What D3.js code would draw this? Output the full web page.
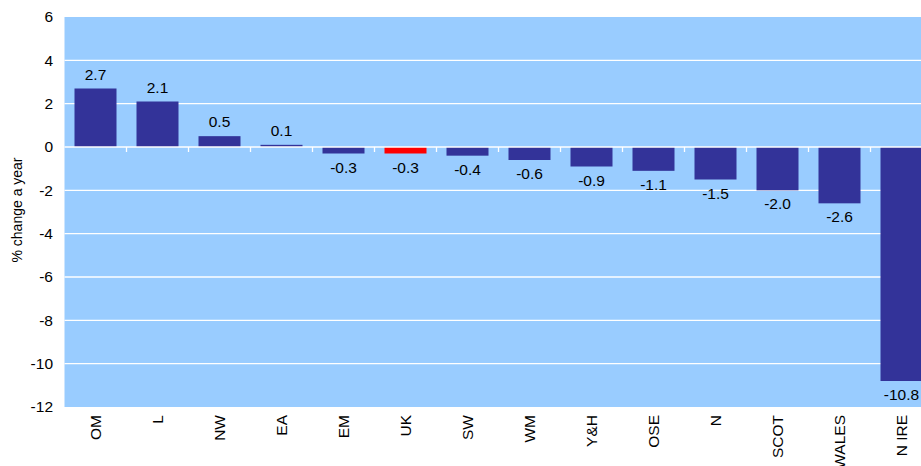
<!DOCTYPE html>
<html>
<head>
<meta charset="utf-8">
<script src="https://cdn.jsdelivr.net/npm/d3@7/dist/d3.min.js"></script>
<style>
  html, body { margin: 0; padding: 0; background: #ffffff; }
  svg { display: block; font-family: "Liberation Sans", Arial, sans-serif; }
</style>
</head>
<body>
<svg id="chart" width="921" height="466"></svg>
<script>
// Regional change, % a year
const regions = ["OM", "L", "NW", "EA", "EM", "UK", "SW", "WM", "Y&H", "OSE", "N", "SCOT", "WALES", "N IRE"];
const changes = [2.7, 2.1, 0.5, 0.1, -0.3, -0.3, -0.4, -0.6, -0.9, -1.1, -1.5, -2.0, -2.6, -10.8];
const highlighted = ["UK"];
const yTicks = [6, 4, 2, 0, -2, -4, -6, -8, -10, -12];
const yTitle = "% change a year";

const svg = d3.select("#chart");
const plot = { left: 64.5, right: 932.5, top: 17, bottom: 407 };
const fontSize = 15.5;

const x = d3.scaleBand()
  .domain(regions)
  .range([plot.left, plot.right])
  .paddingInner(20 / 62)
  .paddingOuter(10 / 62);

const y = d3.scaleLinear()
  .domain([-12, 6])
  .range([plot.bottom, plot.top]);

const data = regions.map((r, i) => ({ region: r, value: changes[i] }));

// plot background
svg.append("rect")
  .attr("x", plot.left)
  .attr("y", plot.top)
  .attr("width", plot.right - plot.left)
  .attr("height", plot.bottom - plot.top)
  .attr("fill", "#99ccff");

// horizontal gridlines
svg.append("g")
  .selectAll("line")
  .data(yTicks.filter(t => t !== 6 && t !== -12 && t !== 0))
  .join("line")
  .attr("x1", plot.left)
  .attr("x2", plot.right)
  .attr("y1", d => y(d))
  .attr("y2", d => y(d))
  .attr("stroke", "#ffffff")
  .attr("stroke-width", 1.3);

// bars
svg.append("g")
  .selectAll("rect")
  .data(data)
  .join("rect")
  .attr("x", d => x(d.region))
  .attr("width", x.bandwidth())
  .attr("y", d => y(Math.max(0, d.value)))
  .attr("height", d => Math.abs(y(d.value) - y(0)))
  .attr("fill", d => highlighted.includes(d.region) ? "#ff0000" : "#333399");

// zero line with category separators
const zero = svg.append("g");
zero.append("line")
  .attr("x1", plot.left)
  .attr("x2", plot.right)
  .attr("y1", y(0))
  .attr("y2", y(0))
  .attr("stroke", "#ffffff")
  .attr("stroke-width", 1.3);
zero.selectAll("line.sep")
  .data(regions.slice(1))
  .join("line")
  .attr("class", "sep")
  .attr("x1", d => x(d) - x.step() * x.paddingInner() / 2)
  .attr("x2", d => x(d) - x.step() * x.paddingInner() / 2)
  .attr("y1", y(0))
  .attr("y2", y(0) + 5)
  .attr("stroke", "#ffffff")
  .attr("stroke-width", 1.3);

// value labels
svg.append("g")
  .selectAll("text")
  .data(data)
  .join("text")
  .attr("x", d => x(d.region) + x.bandwidth() / 2)
  .attr("y", d => d.value >= 0 ? y(d.value) - 9 : y(d.value) + 19)
  .attr("text-anchor", "middle")
  .attr("font-size", fontSize)
  .attr("fill", "#000000")
  .text(d => d.value.toFixed(1));

// y axis tick labels
svg.append("g")
  .selectAll("text")
  .data(yTicks)
  .join("text")
  .attr("x", 53)
  .attr("y", d => y(d))
  .attr("dy", "0.35em")
  .attr("text-anchor", "end")
  .attr("font-size", fontSize)
  .attr("fill", "#000000")
  .text(d => d);

// category labels, rotated
svg.append("g")
  .selectAll("text")
  .data(regions)
  .join("text")
  .attr("transform", d => `translate(${x(d) + x.bandwidth() / 2},415) rotate(-90)`)
  .attr("dy", "0.35em")
  .attr("text-anchor", "end")
  .attr("font-size", fontSize)
  .attr("fill", "#000000")
  .text(d => d);

// y axis title
svg.append("text")
  .attr("transform", "translate(17,210) rotate(-90)")
  .attr("dy", "0.35em")
  .attr("text-anchor", "middle")
  .attr("font-size", 14)
  .attr("fill", "#000000")
  .text(yTitle);
</script>
</body>
</html>
